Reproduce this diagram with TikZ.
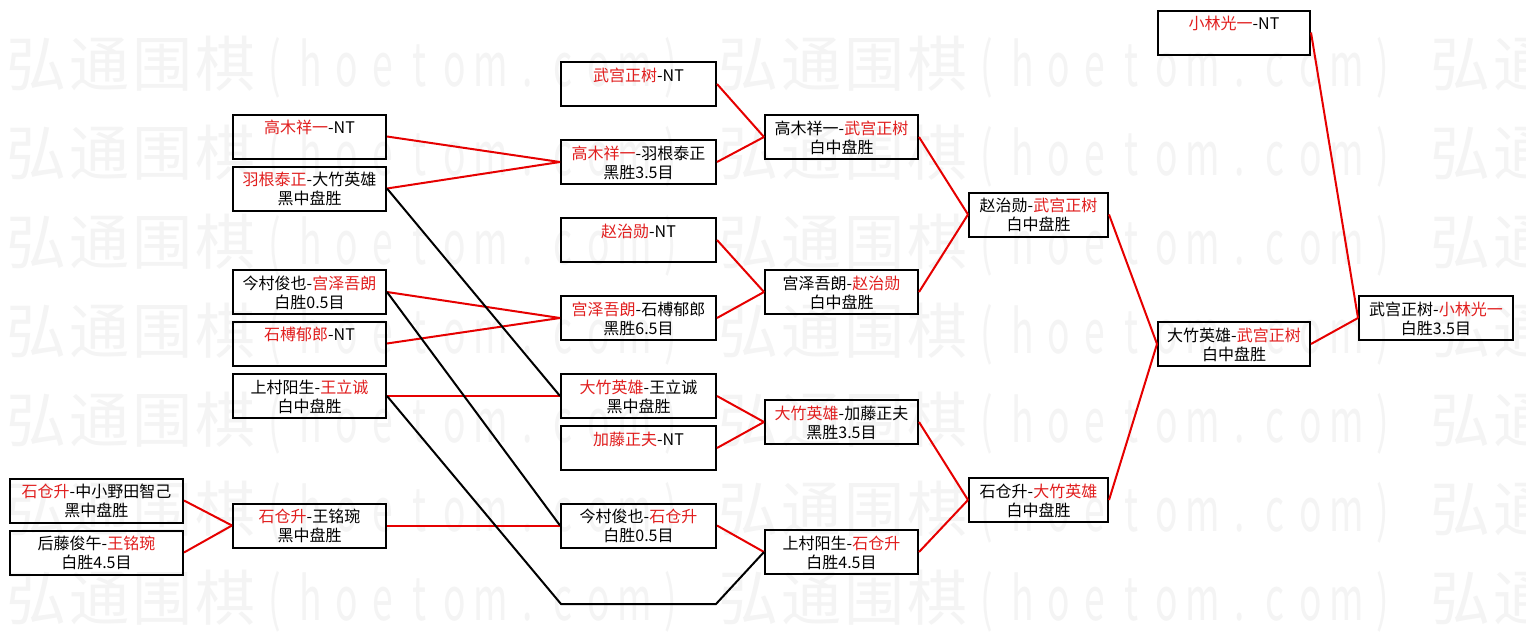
\documentclass[tikz,border=0pt]{standalone}
\usepackage{graphicx}
\usepackage{fontspec}
\setmainfont{Noto Sans CJK SC}
\definecolor{tred}{RGB}{225,30,30}
\definecolor{lred}{RGB}{230,0,0}
\definecolor{wmgray}{RGB}{244,244,244}
\newcommand{\rd}[1]{\textcolor{tred}{#1}}
\newcommand{\two}[2]{\rule{0pt}{19.3pt}#1\\\strut #2}
\newcommand{\wmc}[1]{\makebox[63pt]{#1}}
\newcommand{\wma}[1]{\makebox[36pt]{\scalebox{0.62}[1]{#1}}}
\newcommand{\wmunit}{\wmc{弘}\wmc{通}\wmc{围}\wmc{棋}\wma{(}\wma{h}\wma{o}\wma{e}\wma{t}\wma{o}\wma{m}\wma{.}\wma{c}\wma{o}\wma{m}\wma{)}\hspace{28pt}}
\tikzset{
  bx/.style={draw=black, line width=2pt, minimum height=44pt, inner sep=0pt, align=center, font=\fontsize{16}{19}\selectfont},
  wmrow/.style={anchor=west, inner sep=0pt, text=wmgray, font=\fontsize{60}{60}\selectfont},
  rl/.style={draw=lred, line width=2pt},
  bl/.style={draw=black, line width=2pt},
}
\begin{document}
\begin{tikzpicture}[x=1pt,y=-1pt]
\useasboundingbox (0,0) rectangle (1526,637);
\fill[white] (0,0) rectangle (1526,637);
% watermark
\begin{scope}
\clip (0,0) rectangle (1526,637);
\node[wmrow] (w1) at (5,67) {\wmunit\wmunit\wmunit};
\node[wmrow] (w2) at (5,156) {\wmunit\wmunit\wmunit};
\node[wmrow] (w3) at (5,245) {\wmunit\wmunit\wmunit};
\node[wmrow] (w4) at (5,334) {\wmunit\wmunit\wmunit};
\node[wmrow] (w5) at (5,423) {\wmunit\wmunit\wmunit};
\node[wmrow] (w6) at (5,512) {\wmunit\wmunit\wmunit};
\node[wmrow] (w7) at (5,601) {\wmunit\wmunit\wmunit};
\end{scope}
% column A
\node[bx, minimum width=153pt] (A1) at (309.5,136.5) {\two{\rd{高木祥一}-NT}{}};
\node[bx, minimum width=153pt] (A2) at (309.5,188.5) {\two{\rd{羽根泰正}-大竹英雄}{黑中盘胜}};
\node[bx, minimum width=153pt] (A3) at (309.5,292) {\two{今村俊也-\rd{宫泽吾朗}}{白胜0.5目}};
\node[bx, minimum width=153pt] (A4) at (309.5,343.5) {\two{\rd{石榑郁郎}-NT}{}};
\node[bx, minimum width=153pt] (A5) at (309.5,396) {\two{上村阳生-\rd{王立诚}}{白中盘胜}};
% column B
\node[bx, minimum width=173pt] (B1) at (96.5,500.5) {\two{\rd{石仓升}-中小野田智己}{黑中盘胜}};
\node[bx, minimum width=173pt] (B2) at (96.5,552.5) {\two{后藤俊午-\rd{王铭琬}}{白胜4.5目}};
\node[bx, minimum width=153pt] (Bm) at (309.5,525.5) {\two{\rd{石仓升}-王铭琬}{黑中盘胜}};
% column C
\node[bx, minimum width=155pt] (C1) at (638.5,84) {\two{\rd{武宫正树}-NT}{}};
\node[bx, minimum width=155pt] (C2) at (638.5,162) {\two{\rd{高木祥一}-羽根泰正}{黑胜3.5目}};
\node[bx, minimum width=155pt] (C3) at (638.5,240) {\two{\rd{赵治勋}-NT}{}};
\node[bx, minimum width=155pt] (C4) at (638.5,318) {\two{\rd{宫泽吾朗}-石榑郁郎}{黑胜6.5目}};
\node[bx, minimum width=155pt] (C5) at (638.5,396) {\two{\rd{大竹英雄}-王立诚}{黑中盘胜}};
\node[bx, minimum width=155pt] (C6) at (638.5,448) {\two{\rd{加藤正夫}-NT}{}};
\node[bx, minimum width=155pt] (C7) at (638.5,525.5) {\two{今村俊也-\rd{石仓升}}{白胜0.5目}};
% column D
\node[bx, minimum width=153pt] (D1) at (841.5,137) {\two{高木祥一-\rd{武宫正树}}{白中盘胜}};
\node[bx, minimum width=153pt] (D2) at (841.5,292) {\two{宫泽吾朗-\rd{赵治勋}}{白中盘胜}};
\node[bx, minimum width=153pt] (D3) at (841.5,422) {\two{\rd{大竹英雄}-加藤正夫}{黑胜3.5目}};
\node[bx, minimum width=153pt] (D4) at (841.5,552) {\two{上村阳生-\rd{石仓升}}{白胜4.5目}};
% column E
\node[bx, minimum width=139pt] (E1) at (1038.5,214.5) {\two{赵治勋-\rd{武宫正树}}{白中盘胜}};
\node[bx, minimum width=139pt] (E2) at (1038.5,500) {\two{石仓升-\rd{大竹英雄}}{白中盘胜}};
% column F
\node[bx, minimum width=152pt] (F0) at (1234,32.5) {\two{\rd{小林光一}-NT}{}};
\node[bx, minimum width=152pt] (F1) at (1234,344) {\two{大竹英雄-\rd{武宫正树}}{白中盘胜}};
% final
\node[bx, minimum width=154pt] (G) at (1436,318) {\two{武宫正树-\rd{小林光一}}{白胜3.5目}};
% red connectors
\draw[rl] (A1.east) -- (C2.west);
\draw[rl] (A2.east) -- (C2.west);
\draw[rl] (A3.east) -- (C4.west);
\draw[rl] (A4.east) -- (C4.west);
\draw[rl] (A5.east) -- (C5.west);
\draw[rl] (B1.east) -- (Bm.west);
\draw[rl] (B2.east) -- (Bm.west);
\draw[rl] (Bm.east) -- (C7.west);
\draw[rl] (C1.east) -- (D1.west);
\draw[rl] (C2.east) -- (D1.west);
\draw[rl] (C3.east) -- (D2.west);
\draw[rl] (C4.east) -- (D2.west);
\draw[rl] (C5.east) -- (D3.west);
\draw[rl] (C6.east) -- (D3.west);
\draw[rl] (C7.east) -- (D4.west);
\draw[rl] (D1.east) -- (E1.west);
\draw[rl] (D2.east) -- (E1.west);
\draw[rl] (D3.east) -- (E2.west);
\draw[rl] (D4.east) -- (E2.west);
\draw[rl] (E1.east) -- (F1.west);
\draw[rl] (E2.east) -- (F1.west);
\draw[rl] (F1.east) -- (G.west);
\draw[rl] (F0.east) -- (G.west);
% black connectors
\coordinate (k1) at (561,604);
\coordinate (k2) at (716,604);
\draw[bl] (A2.east) -- (C5.west);
\draw[bl] (A3.east) -- (C7.west);
\draw[bl, line join=miter] (A5.east) -- (k1) -- (k2) -- (D4.west);
\end{tikzpicture}
\end{document}
